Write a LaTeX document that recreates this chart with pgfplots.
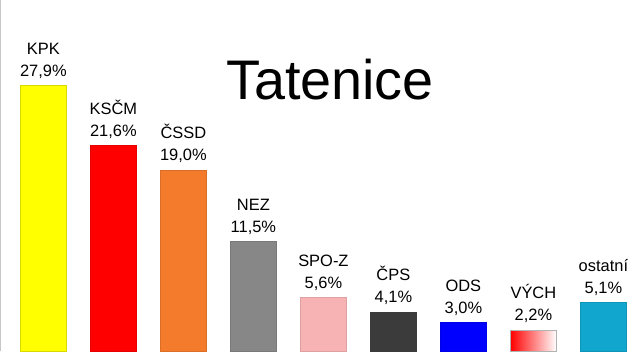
\documentclass[border=0pt]{standalone}
\usepackage{fontspec}
\setmainfont{Liberation Sans}
\usepackage{pgfplots}
\pgfplotsset{compat=1.18}
\definecolor{cKPK}{HTML}{FFFF00}
\definecolor{cKSCM}{HTML}{FF0000}
\definecolor{cCSSD}{HTML}{F47B2C}
\definecolor{cNEZ}{HTML}{878787}
\definecolor{cSPO}{HTML}{F7B3B3}
\definecolor{cCPS}{HTML}{3B3B3B}
\definecolor{cODS}{HTML}{0000FF}
\definecolor{cOST}{HTML}{10A6CE}
\newcommand\partybar[4]{%
  \addplot[ybar, bar width=46bp, bar shift=0pt, #4,
    nodes near coords={#3\\\pgfmathprintnumber{\pgfplotspointmeta}\%}]
    coordinates {(#1,#2)};
}
\begin{document}
\begin{tikzpicture}
\begin{axis}[
  scale only axis, width=640bp, height=351bp,
  xmin=-0.62, xmax=8.523, ymin=0, ymax=36.86,
  hide axis,
  /pgf/number format/.cd, fixed, fixed zerofill, precision=1, use comma, assume math mode=true,
  /pgfplots/.cd,
  every node near coord/.append style={align=center, font=\fontsize{16.5}{22}\selectfont, anchor=south, inner sep=0pt, yshift=7bp, text=black},
  title={Tatenice},
  title style={at={(rel axis cs:0.5156,0.70)}, anchor=base, inner sep=0pt, yshift=0pt, font=\fontsize{56}{60}\selectfont},
]
\partybar{0}{27.9}{KPK}{fill=cKPK, draw=cKPK!85!black, line width=0.4bp}
\partybar{1}{21.6}{KSČM}{fill=cKSCM, draw=cKSCM!90!black, line width=0.4bp}
\partybar{2}{19.0}{ČSSD}{fill=cCSSD, draw=cCSSD!90!black, line width=0.4bp}
\partybar{3}{11.5}{NEZ}{fill=cNEZ, draw=cNEZ!90!black, line width=0.4bp}
\partybar{4}{5.6}{SPO-Z}{fill=cSPO, draw=cSPO!90!black, line width=0.4bp}
\partybar{5}{4.1}{ČPS}{fill=cCPS, draw=cCPS, line width=0.4bp}
\partybar{6}{3.0}{ODS}{fill=cODS, draw=cODS!90!black, line width=0.4bp}
\partybar{7}{2.2}{VÝCH}{left color=red, right color=white, draw=black!30, line width=0.4bp}
\partybar{8}{5.1}{ostatní}{fill=cOST, draw=cOST!90!black, line width=0.4bp}
\draw[black!22, line width=1bp] (rel axis cs:0,0) -- (rel axis cs:0,1) -- (rel axis cs:1,1) -- (rel axis cs:1,0);
\end{axis}
\end{tikzpicture}
\end{document}
